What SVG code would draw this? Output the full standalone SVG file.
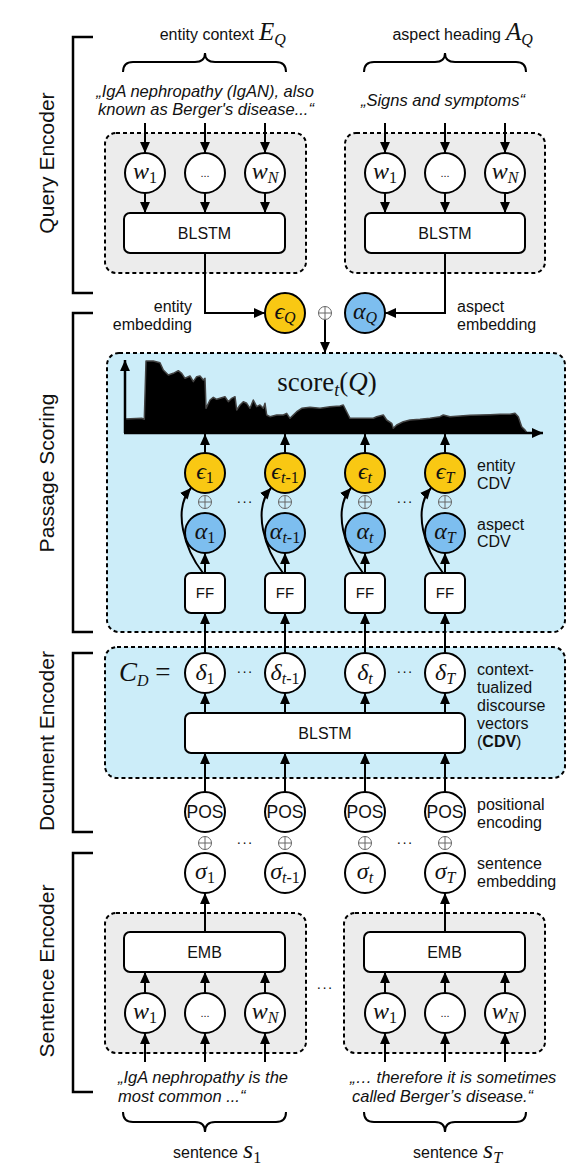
<svg xmlns="http://www.w3.org/2000/svg" width="578" height="1175" viewBox="0 0 578 1175">
<style>
.lbl{font-family:"Liberation Sans",Arial,sans-serif;font-size:16px;fill:#111}
.side{font-size:21px}
.it{font-style:italic;font-size:16.5px}
.c{text-anchor:middle}
.e{text-anchor:end}
.m{font-family:"Liberation Serif","DejaVu Serif",serif;font-style:italic;font-size:24px;fill:#111}
.sub{font-size:16px;font-style:normal}
.subi{font-size:16px;font-style:italic}
.node{fill:#fff;stroke:#000;stroke-width:2}
.ent{fill:#f9c813;stroke:#000;stroke-width:2}
.asp{fill:#7dbeef;stroke:#000;stroke-width:2}
.dash{stroke:#000;stroke-width:2;stroke-dasharray:4 3}
.gray{fill:#ececec}
.blue{fill:#ccedf9}
.br{fill:none;stroke:#000;stroke-width:2.5}
.conn line,.conn path{stroke:#000;stroke-width:2;fill:none}
.oplus{fill:none;stroke:#666;stroke-width:1}
.dots{font-family:"Liberation Sans",Arial,sans-serif;font-size:14px;text-anchor:middle;fill:#111;letter-spacing:1px}
</style>
<defs>
<marker id="ah" viewBox="0 0 10 10" refX="10" refY="5" markerWidth="11" markerHeight="11" markerUnits="userSpaceOnUse" orient="auto"><path d="M0,0.5 L10,5 L0,9.5 z" fill="#000"/></marker>
<g id="op"><circle r="6.5" class="oplus"/><path d="M-6.5,0 H6.5 M0,-6.5 V6.5" class="oplus"/></g>
</defs>
<rect width="578" height="1175" fill="#fff"/>

<!-- side brackets and labels -->
<g id="brackets">
<path class="br" d="M93,37 H73 V293 H93"/>
<path class="br" d="M93,313 H73 V632 H93"/>
<path class="br" d="M93,653 H73 V832 H93"/>
<path class="br" d="M93,853 H73 V1092 H93"/>
<text class="lbl side c" transform="translate(54,163) rotate(-90)">Query Encoder</text>
<text class="lbl side c" transform="translate(54,473) rotate(-90)">Passage Scoring</text>
<text class="lbl side c" transform="translate(54,741) rotate(-90)">Document Encoder</text>
<text class="lbl side c" transform="translate(54,971) rotate(-90)">Sentence Encoder</text>
</g>

<!-- top labels -->
<g id="query-labels">
<text class="lbl e" x="254" y="40">entity context</text>
<text class="m" x="259" y="40" style="font-size:25px">E<tspan class="subi" dy="5">Q</tspan></text>
<text class="lbl e" x="501" y="40">aspect heading</text>
<text class="m" x="506" y="40" style="font-size:25px">A<tspan class="subi" dy="5">Q</tspan></text>
<path class="br" style="stroke-width:2" d="M123,72 Q123,62 133,62 H195 Q205,62 205,53 Q205,62 215,62 H276 Q286,62 286,72"/>
<path class="br" style="stroke-width:2" d="M364,72 Q364,62 374,62 H435 Q445,62 445,53 Q445,62 455,62 H516 Q526,62 526,72"/>
<text class="lbl it c" x="205" y="97">„IgA nephropathy (IgAN), also</text>
<text class="lbl it c" x="206" y="115">known as Berger's disease...“</text>
<text class="lbl it c" x="443" y="106">„Signs and symptoms“</text>
</g>

<!-- query encoder boxes -->
<g id="entity-encoder">
<rect class="gray dash" x="105" y="133" width="201" height="140" rx="11"/>
<rect class="node" x="124" y="213" width="161" height="40" rx="6"/>
<text class="lbl c" x="204.5" y="239">BLSTM</text>
</g>
<g id="entity-words">
<circle class="node" cx="145" cy="173" r="20"/><text class="m c" x="145" y="179">w<tspan class="sub" dy="4">1</tspan></text>
<circle class="node" cx="205" cy="173" r="20"/><text class="lbl c" x="205" y="177" style="font-size:11px">...</text>
<circle class="node" cx="265" cy="173" r="20"/><text class="m c" x="265" y="179">w<tspan class="subi" dy="4">N</tspan></text>
</g>
<g id="aspect-encoder">
<rect class="gray dash" x="345" y="133" width="200" height="140" rx="11"/>
<rect class="node" x="365" y="213" width="160" height="40" rx="6"/>
<text class="lbl c" x="445" y="239">BLSTM</text>
</g>
<g id="aspect-words">
<circle class="node" cx="385" cy="173" r="20"/><text class="m c" x="385" y="179">w<tspan class="sub" dy="4">1</tspan></text>
<circle class="node" cx="445" cy="173" r="20"/><text class="lbl c" x="445" y="177" style="font-size:11px">...</text>
<circle class="node" cx="505" cy="173" r="20"/><text class="m c" x="505" y="179">w<tspan class="subi" dy="4">N</tspan></text>
</g>

<!-- query embeddings -->
<g id="eps-q">
<circle class="ent" cx="285" cy="313" r="20"/><text class="m c" x="285" y="319">ϵ<tspan class="subi" dy="4">Q</tspan></text>
</g>
<g id="alpha-q">
<circle class="asp" cx="365" cy="313" r="20"/><text class="m c" x="365" y="319">α<tspan class="subi" dy="4">Q</tspan></text>
</g>
<use href="#op" x="325" y="313"/>
<text class="lbl e" x="192" y="312">entity</text>
<text class="lbl e" x="192" y="330">embedding</text>
<text class="lbl" x="457" y="312">aspect</text>
<text class="lbl" x="457" y="330">embedding</text>

<!-- passage scoring -->
<g id="passage-scoring">
<rect class="blue dash" x="107" y="353" width="458" height="279" rx="12"/>
<polygon fill="#000" stroke="#444" stroke-width="1.5" stroke-linejoin="round" points="125,432.7 125,419 141.7,418.3 144.3,419.3 146,361 153.3,361 160,362.7 163.3,370 168.3,375 173.3,373.3 178.3,370.7 181.7,373.3 185,378.3 190,376 193.3,381.7 196.7,376.7 200,376 203.3,380 205,378.3 206,408.3 210,400 213.3,397.3 216.7,399.3 220,398.3 225,396.7 228.3,401.7 231.7,398.3 235,396.7 236.7,410 240,405 243.3,401.7 246.7,403.3 250,408.3 253.3,400 256.7,406.7 260,405 263.3,408.3 265,403.3 266.7,415 270,416.7 276.7,415 283.3,415 286.7,413.3 290,418.3 293.3,415 296.7,411.7 301.7,408.3 310,407.3 320,408.3 330,406.7 340,406 343.3,405 348.3,415 350,418.3 363.3,418.3 373.3,418.3 376.7,416.7 383.3,415 386.7,420 391.7,423.3 393.3,428.3 396.7,425 403.3,421.7 410,420 420,419.3 430,418.3 440,416.7 443.3,415 450,416.7 460,416 470,415.3 480,415 490,414.7 500,414.3 510,414.3 515,413.3 518.3,416.7 521.7,426.7 525,430 526.7,432.7"/>
<line x1="125" y1="433" x2="125" y2="360" stroke="#000" stroke-width="2.5" marker-end="url(#ah)"/>
<line x1="124" y1="433" x2="543" y2="433" stroke="#000" stroke-width="2.5" marker-end="url(#ah)"/>
<text x="327" y="391" class="m c" style="font-style:normal;font-size:27px">score<tspan class="subi" dy="5" style="font-size:18px">t</tspan><tspan dy="-5">(</tspan><tspan style="font-style:italic">Q</tspan>)</text>
<text class="lbl" x="477" y="471">entity</text>
<text class="lbl" x="477" y="489">CDV</text>
<text class="lbl" x="477" y="530">aspect</text>
<text class="lbl" x="477" y="547">CDV</text>
<text class="dots" x="245" y="506">···</text>
<text class="dots" x="405" y="506">···</text>
</g>
<g id="eps-1"><circle class="ent" cx="205" cy="473" r="20"/><text class="m c" x="205" y="479">ϵ<tspan class="sub" dy="4">1</tspan></text></g>
<g id="eps-t1"><circle class="ent" cx="285" cy="473" r="20"/><text class="m c" x="285" y="479">ϵ<tspan class="subi" dy="4">t</tspan><tspan class="sub">-1</tspan></text></g>
<g id="eps-t"><circle class="ent" cx="365" cy="473" r="20"/><text class="m c" x="365" y="479">ϵ<tspan class="subi" dy="4">t</tspan></text></g>
<g id="eps-T"><circle class="ent" cx="445" cy="473" r="20"/><text class="m c" x="445" y="479">ϵ<tspan class="subi" dy="4">T</tspan></text></g>
<use href="#op" x="205" y="502"/><use href="#op" x="285" y="502"/><use href="#op" x="365" y="502"/><use href="#op" x="445" y="502"/>
<g id="alpha-1"><circle class="asp" cx="205" cy="533" r="20"/><text class="m c" x="205" y="539">α<tspan class="sub" dy="4">1</tspan></text></g>
<g id="alpha-t1"><circle class="asp" cx="285" cy="533" r="20"/><text class="m c" x="285" y="539">α<tspan class="subi" dy="4">t</tspan><tspan class="sub">-1</tspan></text></g>
<g id="alpha-t"><circle class="asp" cx="365" cy="533" r="20"/><text class="m c" x="365" y="539">α<tspan class="subi" dy="4">t</tspan></text></g>
<g id="alpha-T"><circle class="asp" cx="445" cy="533" r="20"/><text class="m c" x="445" y="539">α<tspan class="subi" dy="4">T</tspan></text></g>
<g id="ff-1"><rect class="node" x="185" y="573" width="40" height="40" rx="6"/><text class="lbl c" x="205" y="598" style="font-size:15px">FF</text></g>
<g id="ff-t1"><rect class="node" x="265" y="573" width="40" height="40" rx="6"/><text class="lbl c" x="285" y="598" style="font-size:15px">FF</text></g>
<g id="ff-t"><rect class="node" x="345" y="573" width="40" height="40" rx="6"/><text class="lbl c" x="365" y="598" style="font-size:15px">FF</text></g>
<g id="ff-T"><rect class="node" x="425" y="573" width="40" height="40" rx="6"/><text class="lbl c" x="445" y="598" style="font-size:15px">FF</text></g>

<!-- document encoder -->
<g id="document-encoder">
<rect class="blue dash" x="105" y="647" width="460" height="131" rx="12"/>
<rect class="node" x="185" y="713" width="280" height="40" rx="6"/>
<text class="lbl c" x="325" y="739">BLSTM</text>
<text class="m" x="119" y="681" style="font-size:27px">C<tspan class="subi" dy="5">D</tspan><tspan style="font-style:normal" dy="-5"> =</tspan></text>
<text class="dots" x="245" y="676">···</text>
<text class="dots" x="405" y="676">···</text>
<text class="lbl" x="477" y="675">context-</text>
<text class="lbl" x="477" y="693">tualized</text>
<text class="lbl" x="477" y="711">discourse</text>
<text class="lbl" x="477" y="729">vectors</text>
<text class="lbl" x="477" y="747">(<tspan font-weight="bold">CDV</tspan>)</text>
</g>
<g id="delta-1"><circle class="node" cx="205" cy="673" r="20"/><text class="m c" x="205" y="680">δ<tspan class="sub" dy="4">1</tspan></text></g>
<g id="delta-t1"><circle class="node" cx="285" cy="673" r="20"/><text class="m c" x="285" y="680">δ<tspan class="subi" dy="4">t</tspan><tspan class="sub">-1</tspan></text></g>
<g id="delta-t"><circle class="node" cx="365" cy="673" r="20"/><text class="m c" x="365" y="680">δ<tspan class="subi" dy="4">t</tspan></text></g>
<g id="delta-T"><circle class="node" cx="445" cy="673" r="20"/><text class="m c" x="445" y="680">δ<tspan class="subi" dy="4">T</tspan></text></g>

<!-- positional encoding and sentence embeddings -->
<g id="pos-1"><circle class="node" cx="205" cy="812" r="20"/><text class="lbl c" x="205" y="818" style="font-size:17.5px">POS</text></g>
<g id="pos-t1"><circle class="node" cx="285" cy="812" r="20"/><text class="lbl c" x="285" y="818" style="font-size:17.5px">POS</text></g>
<g id="pos-t"><circle class="node" cx="365" cy="812" r="20"/><text class="lbl c" x="365" y="818" style="font-size:17.5px">POS</text></g>
<g id="pos-T"><circle class="node" cx="445" cy="812" r="20"/><text class="lbl c" x="445" y="818" style="font-size:17.5px">POS</text></g>
<use href="#op" x="205" y="843"/><use href="#op" x="285" y="843"/><use href="#op" x="365" y="843"/><use href="#op" x="445" y="843"/>
<text class="dots" x="245" y="847">···</text>
<text class="dots" x="405" y="847">···</text>
<text class="lbl" x="477" y="810">positional</text>
<text class="lbl" x="477" y="828">encoding</text>
<text class="lbl" x="477" y="869">sentence</text>
<text class="lbl" x="477" y="887">embedding</text>
<g id="sigma-1"><circle class="node" cx="205" cy="873" r="20"/><text class="m c" x="205" y="879">σ<tspan class="sub" dy="4">1</tspan></text></g>
<g id="sigma-t1"><circle class="node" cx="285" cy="873" r="20"/><text class="m c" x="285" y="879">σ<tspan class="subi" dy="4">t</tspan><tspan class="sub">-1</tspan></text></g>
<g id="sigma-t"><circle class="node" cx="365" cy="873" r="20"/><text class="m c" x="365" y="879">σ<tspan class="subi" dy="4">t</tspan></text></g>
<g id="sigma-T"><circle class="node" cx="445" cy="873" r="20"/><text class="m c" x="445" y="879">σ<tspan class="subi" dy="4">T</tspan></text></g>

<!-- sentence encoders -->
<g id="sentence-encoder-1">
<rect class="gray dash" x="105" y="913" width="201" height="140" rx="11"/>
<rect class="node" x="124" y="932" width="161" height="40" rx="6"/>
<text class="lbl c" x="204.5" y="958">EMB</text>
</g>
<g id="sentence-words-1">
<circle class="node" cx="145" cy="1013" r="20"/><text class="m c" x="145" y="1019">w<tspan class="sub" dy="4">1</tspan></text>
<circle class="node" cx="205" cy="1013" r="20"/><text class="lbl c" x="205" y="1017" style="font-size:11px">...</text>
<circle class="node" cx="265" cy="1013" r="20"/><text class="m c" x="265" y="1019">w<tspan class="subi" dy="4">N</tspan></text>
</g>
<g id="sentence-encoder-T">
<rect class="gray dash" x="344" y="913" width="201" height="140" rx="11"/>
<rect class="node" x="364" y="932" width="161" height="40" rx="6"/>
<text class="lbl c" x="444.5" y="958">EMB</text>
</g>
<g id="sentence-words-T">
<circle class="node" cx="385" cy="1013" r="20"/><text class="m c" x="385" y="1019">w<tspan class="sub" dy="4">1</tspan></text>
<circle class="node" cx="445" cy="1013" r="20"/><text class="lbl c" x="445" y="1017" style="font-size:11px">...</text>
<circle class="node" cx="505" cy="1013" r="20"/><text class="m c" x="505" y="1019">w<tspan class="subi" dy="4">N</tspan></text>
</g>
<text class="dots" x="325" y="992">···</text>

<!-- bottom labels -->
<g id="sentence-labels">
<text class="lbl it" x="118" y="1083">„IgA nephropathy is the</text>
<text class="lbl it" x="118" y="1102">most common ...“</text>
<text class="lbl it" x="350" y="1083">„… therefore it is sometimes</text>
<text class="lbl it" x="352" y="1102">called Berger’s disease.“</text>
<path class="br" style="stroke-width:2" d="M123,1112 Q123,1122 133,1122 H195 Q205,1122 205,1132 Q205,1122 215,1122 H276 Q286,1122 286,1112"/>
<path class="br" style="stroke-width:2" d="M364,1112 Q364,1122 374,1122 H435 Q445,1122 445,1132 Q445,1122 455,1122 H516 Q526,1122 526,1112"/>
<text class="lbl e" x="238" y="1158">sentence</text>
<text class="m" x="243" y="1158" style="font-size:26px">s<tspan class="sub" dy="5">1</tspan></text>
<text class="lbl e" x="478" y="1158">sentence</text>
<text class="m" x="483" y="1158" style="font-size:26px">s<tspan class="subi" dy="5">T</tspan></text>
</g>

<!-- connectors -->
<g id="connectors" class="conn" marker-end="url(#ah)">
<line x1="145" y1="123" x2="145" y2="153"/><line x1="205" y1="123" x2="205" y2="153"/><line x1="265" y1="123" x2="265" y2="153"/>
<line x1="385" y1="123" x2="385" y2="153"/><line x1="445" y1="123" x2="445" y2="153"/><line x1="505" y1="123" x2="505" y2="153"/>
<line x1="145" y1="193" x2="145" y2="213"/><line x1="205" y1="193" x2="205" y2="213"/><line x1="265" y1="193" x2="265" y2="213"/>
<line x1="385" y1="193" x2="385" y2="213"/><line x1="445" y1="193" x2="445" y2="213"/><line x1="505" y1="193" x2="505" y2="213"/>
<path d="M205,253 V313 H265"/>
<path d="M445,253 V313 H385"/>
<line x1="325" y1="320" x2="325" y2="353"/>
<line x1="205" y1="453" x2="205" y2="434"/><line x1="285" y1="453" x2="285" y2="434"/><line x1="365" y1="453" x2="365" y2="434"/><line x1="445" y1="453" x2="445" y2="434"/>
<line x1="205" y1="573" x2="205" y2="553"/><line x1="285" y1="573" x2="285" y2="553"/><line x1="365" y1="573" x2="365" y2="553"/><line x1="445" y1="573" x2="445" y2="553"/>
<path d="M203,573 C185,550 172,510 191,488"/><path d="M283,573 C265,550 252,510 271,488"/><path d="M363,573 C345,550 332,510 351,488"/><path d="M443,573 C425,550 412,510 431,488"/>
<line x1="205" y1="653" x2="205" y2="613"/><line x1="285" y1="653" x2="285" y2="613"/><line x1="365" y1="653" x2="365" y2="613"/><line x1="445" y1="653" x2="445" y2="613"/>
<line x1="205" y1="713" x2="205" y2="693"/><line x1="285" y1="713" x2="285" y2="693"/><line x1="365" y1="713" x2="365" y2="693"/><line x1="445" y1="713" x2="445" y2="693"/>
<line x1="205" y1="792" x2="205" y2="753"/><line x1="285" y1="792" x2="285" y2="753"/><line x1="365" y1="792" x2="365" y2="753"/><line x1="445" y1="792" x2="445" y2="753"/>
<line x1="205" y1="932" x2="205" y2="893"/><line x1="445" y1="932" x2="445" y2="893"/>
<line x1="145" y1="993" x2="145" y2="972"/><line x1="205" y1="993" x2="205" y2="972"/><line x1="265" y1="993" x2="265" y2="972"/>
<line x1="385" y1="993" x2="385" y2="972"/><line x1="445" y1="993" x2="445" y2="972"/><line x1="505" y1="993" x2="505" y2="972"/>
<line x1="145" y1="1062" x2="145" y2="1033"/><line x1="205" y1="1062" x2="205" y2="1033"/><line x1="265" y1="1062" x2="265" y2="1033"/>
<line x1="385" y1="1062" x2="385" y2="1033"/><line x1="445" y1="1062" x2="445" y2="1033"/><line x1="505" y1="1062" x2="505" y2="1033"/>
</g>
</svg>
